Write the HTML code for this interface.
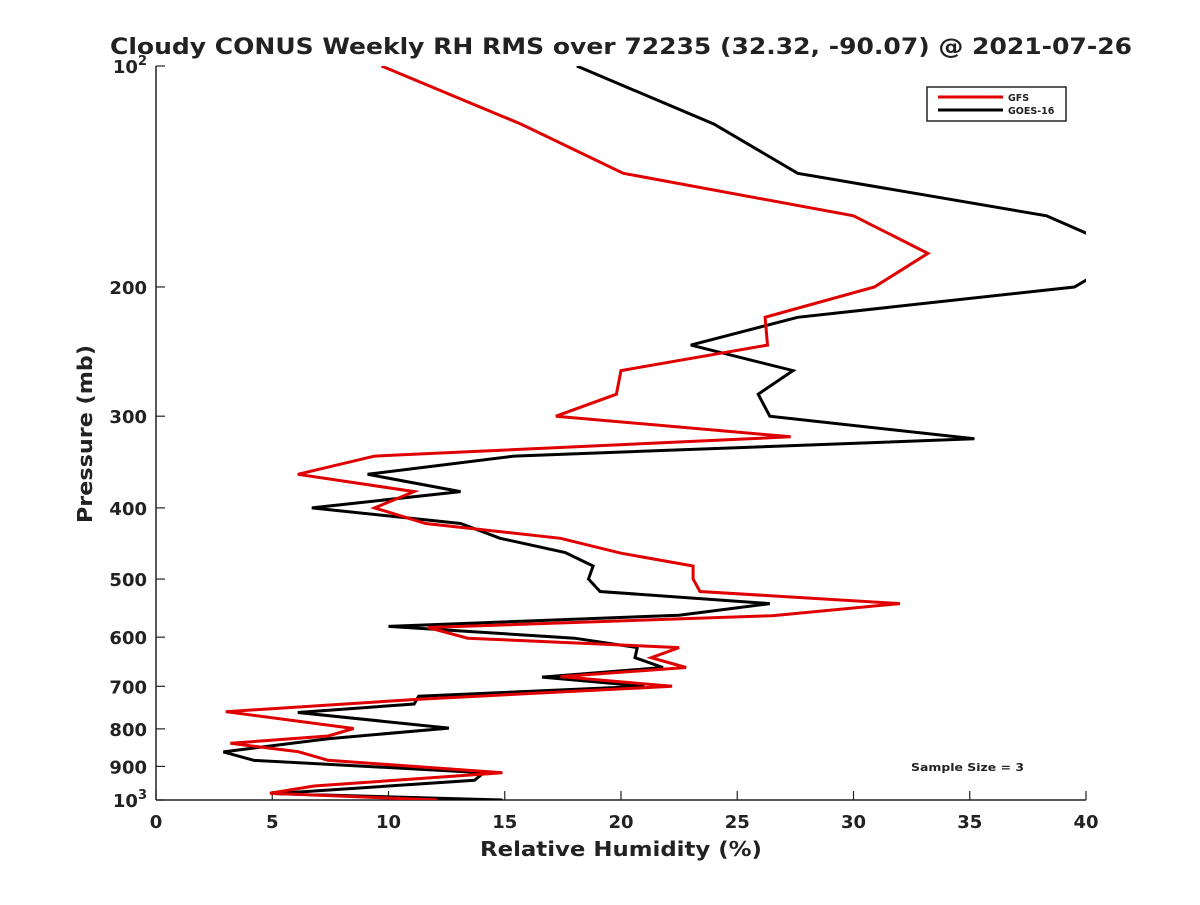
<!DOCTYPE html>
<html><head><meta charset="utf-8">
<style>
body{margin:0;background:#fff;}
svg text{font-family:"DejaVu Sans","Liberation Sans",sans-serif;font-weight:bold;fill:#222;}
</style></head>
<body>
<svg id="chart" width="1200" height="900" xmlns="http://www.w3.org/2000/svg">
<rect width="1200" height="900" fill="#fff"/>
<text x="110" y="54" font-size="22" textLength="1022" lengthAdjust="spacingAndGlyphs">Cloudy CONUS Weekly RH RMS over 72235 (32.32, -90.07) @ 2021-07-26</text>
<defs><clipPath id="pc"><rect x="156" y="66" width="930" height="734"/></clipPath></defs>
<g id="axes"></g>
<g id="series" clip-path="url(#pc)"></g>
<g>
<rect x="927" y="87" width="139" height="34" fill="#fff" stroke="#222" stroke-width="1.5"/>
<line x1="938" y1="97" x2="1003" y2="97" stroke="#e00000" stroke-width="3"/>
<text x="1008" y="101" font-size="9.5">GFS</text>
<line x1="938" y1="110" x2="1003" y2="110" stroke="#000" stroke-width="3"/>
<text x="1008" y="114" font-size="9.5">GOES-16</text>
</g>
<text x="911" y="771" font-size="11" textLength="113" lengthAdjust="spacingAndGlyphs">Sample Size = 3</text>
<text x="480" y="856" font-size="20" textLength="282" lengthAdjust="spacingAndGlyphs">Relative Humidity (%)</text>
<text transform="translate(92,523) rotate(-90)" font-size="20" textLength="178" lengthAdjust="spacingAndGlyphs">Pressure (mb)</text>
</svg>
<script>
const gfsPressure=[100,120,140,160,180,200,220,240,260,280,300,320,340,360,380,400,420,440,461,480,500,520,540,561,582,602,620,640,660,679,700,729,758,799,818,837,859,883,918,957,979,1000];
const gfsRH=[9.7,15.7,20.1,30.0,33.2,30.9,26.2,26.3,20.0,19.8,17.2,27.3,9.4,6.1,11.1,9.4,11.6,17.4,20.0,23.1,23.1,23.4,32.0,26.5,11.7,13.4,22.5,21.3,22.8,17.4,22.2,11.3,3.0,8.5,7.4,3.2,6.1,7.4,14.9,6.8,4.9,12.1];
const goesPressure=[100,120,140,160,180,200,220,240,260,280,300,322,340,360,380,400,420,440,460,480,500,520,540,560,580,602,620,640,660,680,700,722,740,760,798,825,860,883,918,940,980,1000];
const goesRH=[18.1,24.0,27.6,38.3,42.0,39.5,27.6,23.0,27.4,25.9,26.4,35.2,15.4,9.1,13.1,6.7,13.1,14.8,17.6,18.8,18.6,19.1,26.4,22.5,10.0,18.0,20.7,20.6,21.8,16.6,21.0,11.3,11.1,6.1,12.6,7.4,2.9,4.2,14.1,13.7,5.1,14.9];
const xTicks=[0,5,10,15,20,25,30,35,40];
const yTicks=[100,200,300,400,500,600,700,800,900,1000];
const yTickLabels=["10^2","200","300","400","500","600","700","800","900","10^3"];
const NS="http://www.w3.org/2000/svg";
const X0=156,X1=1086,Y0=66,Y1=800;
const xs=v=>X0+(v-0)/(40-0)*(X1-X0);
const ys=p=>Y0+(Math.log10(p)-2)*(Y1-Y0);
function mk(t,a,parent){const e=document.createElementNS(NS,t);for(const k in a)e.setAttribute(k,a[k]);parent.appendChild(e);return e;}
const axes=document.getElementById('axes');
const yAxis=mk('line',{x1:X0,y1:Y0,x2:X0,y2:Y1,stroke:'#222','stroke-width':1.5},axes);


const xAxis=mk('line',{x1:X0,y1:Y1,x2:X1,y2:Y1,stroke:'#222','stroke-width':1.5},axes);


xTicks.forEach(v=>{
  const x=xs(v);
  const t=mk('line',{x1:x,y1:Y1,x2:x,y2:Y1-9,stroke:'#222','stroke-width':1.2},axes);
  
  
  const l=mk('text',{x:x,y:828,'text-anchor':'middle','font-size':18},axes);
  l.textContent=v;
  
  
});
yTicks.forEach((p,i)=>{
  const y=ys(p);
  const t=mk('line',{x1:X0,y1:y,x2:X0+9,y2:y,stroke:'#222','stroke-width':1.2},axes);
  
  
  const lab=yTickLabels[i];
  const l=mk('text',{x:147,y:y+7,'text-anchor':'end','font-size':18},axes);
  
  
  if(lab.indexOf('^')>=0){
    const parts=lab.split('^');
    const a=mk('tspan',{},l);a.textContent=parts[0];
    const b=mk('tspan',{dy:-8,'font-size':13},l);b.textContent=parts[1];
  } else l.textContent=lab;
});
const ser=document.getElementById('series');
function line(P,R,color,name){
  const pts=P.map((p,i)=>xs(R[i]).toFixed(1)+','+ys(p).toFixed(1)).join(' ');
  const e=mk('polyline',{points:pts,fill:'none',stroke:color,'stroke-width':3,'stroke-linejoin':'miter'},ser);
  
  
}
line(goesPressure,goesRH,'#000','goes16-line');
line(gfsPressure,gfsRH,'#e00000','gfs-line');
</script>
</body></html>
